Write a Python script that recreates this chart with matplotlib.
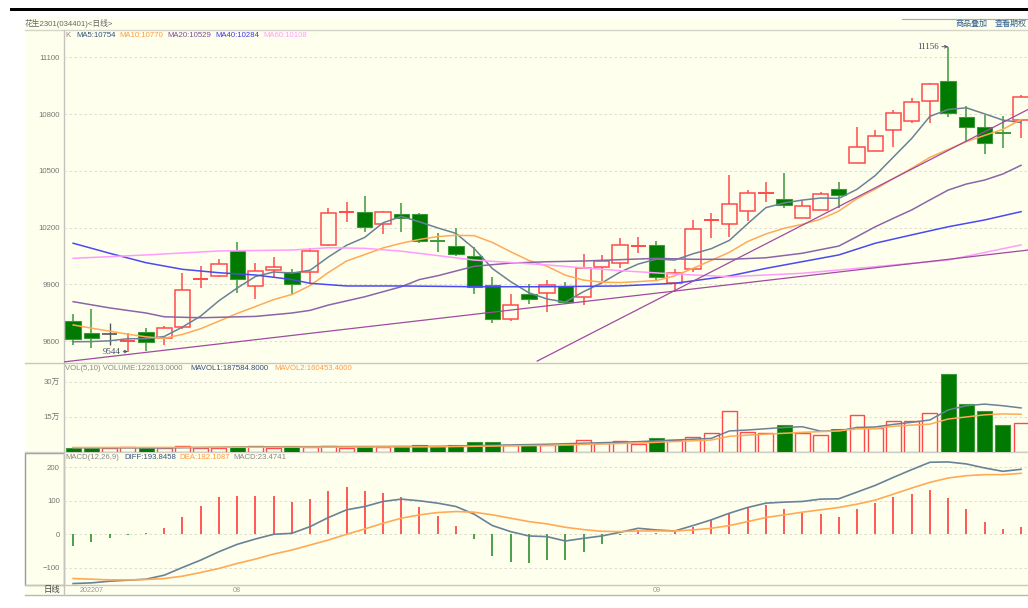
import matplotlib
matplotlib.use("Agg")
import matplotlib.pyplot as plt
from matplotlib.patches import Rectangle
from matplotlib.transforms import blended_transform_factory
import numpy as np

plt.rcParams['font.family'] = ['Liberation Sans', 'Noto Sans CJK SC', 'DejaVu Sans']

# ---------------- data ----------------
opens = [9707, 9641, 9637, 9600, 9649, 9618, 9676, 9924, 9945, 10078,
         9891, 9975, 9963, 9963, 10108, 10280, 10284, 10219, 10272, 10272,
         10130, 10104, 10049, 9896, 9715, 9847, 9852, 9891, 9834, 9993,
         10011, 10102, 10108, 9905, 9979, 10238, 10217, 10289, 10382, 10349,
         10249, 10293, 10405, 10540, 10605, 10716, 10763, 10869, 10975, 10786,
         10730, 10700, 10769]
highs = [9743, 9768, 9694, 9641, 9670, 9679, 9961, 9997, 10034, 10122,
         10011, 10043, 9979, 10090, 10302, 10333, 10367, 10288, 10328, 10279,
         10170, 10196, 10096, 9937, 9849, 9900, 9923, 9914, 10058, 10055,
         10146, 10152, 10130, 9979, 10240, 10275, 10478, 10398, 10439, 10487,
         10346, 10389, 10442, 10730, 10716, 10821, 10887, 10962, 11156, 10843,
         10795, 10790, 10901]
lows = [9579, 9561, 9579, 9544, 9547, 9579, 9662, 9879, 9937, 9852,
        9820, 9932, 9843, 9905, 10100, 10228, 10178, 10166, 10175, 10120,
        10072, 10049, 9849, 9694, 9707, 9796, 9755, 9796, 9790, 9919,
        9984, 10064, 9923, 9861, 9966, 10143, 10152, 10235, 10337, 10305,
        10249, 10293, 10302, 10540, 10605, 10627, 10751, 10751, 10783, 10659,
        10589, 10619, 10675]
closes = [9611, 9618, 9637, 9603, 9593, 9667, 9870, 9927, 10007, 9928,
          9972, 9990, 9900, 10078, 10278, 10282, 10204, 10284, 10249, 10130,
          10123, 10058, 9887, 9715, 9789, 9824, 9894, 9808, 9988, 10023,
          10108, 10106, 9940, 9961, 10191, 10242, 10324, 10381, 10386, 10319,
          10316, 10376, 10372, 10627, 10684, 10807, 10866, 10957, 10804, 10730,
          10649, 10698, 10892]

ma5 = [9596, 9597, 9601, 9612, 9612, 9624, 9674, 9732, 9813, 9880,
       9941, 9965, 9959, 9974, 10044, 10106, 10148, 10225, 10259, 10230,
       10198, 10169, 10089, 9983, 9914, 9855, 9822, 9806, 9861, 9907,
       9964, 10007, 10033, 10028, 10061, 10088, 10132, 10220, 10305, 10330,
       10345, 10356, 10354, 10402, 10475, 10573, 10671, 10788, 10824, 10833,
       10801, 10768, 10755]
ma10 = [9685, 9668, 9652, 9636, 9622, 9614, 9635, 9665, 9705, 9746,
        9782, 9819, 9846, 9893, 9962, 10023, 10057, 10092, 10117, 10137,
        10152, 10159, 10157, 10121, 10072, 10026, 9995, 9948, 9922, 9911,
        9909, 9914, 9920, 9944, 9984, 10026, 10069, 10126, 10166, 10196,
        10217, 10244, 10287, 10353, 10403, 10459, 10513, 10571, 10613, 10654,
        10687, 10719, 10771]
ma20_idx = [0, 2, 4, 5, 7, 10, 12, 13, 14, 16, 18, 19, 20, 22, 24, 26, 28, 30,
            32, 34, 36, 38, 40, 42, 43, 44, 45, 46, 47, 48, 49, 50, 51, 52]
ma20 = [9808, 9775, 9748, 9728, 9723, 9730, 9748, 9762, 9790, 9834, 9887, 9925,
        9945, 9995, 10012, 10019, 10023, 10030, 10037, 10032, 10032, 10040,
        10064, 10102, 10152, 10204, 10249, 10293, 10346, 10398, 10430, 10451,
        10483, 10529]
ma40_idx = [0, 2, 4, 6, 8, 10, 12, 13, 15, 18, 22, 26, 30, 33, 36, 38, 42, 44,
            46, 48, 50, 52]
ma40 = [10117, 10064, 10014, 9979, 9961, 9949, 9925, 9905, 9891, 9891, 9887,
        9887, 9891, 9905, 9944, 9984, 10055, 10117, 10161, 10204, 10240, 10284]
ma60_idx = [0, 4, 8, 12, 14, 16, 18, 22, 26, 30, 33, 36, 40, 44, 48, 52]
ma60 = [10037, 10055, 10076, 10081, 10093, 10090, 10075, 10028, 10002, 9972,
        9954, 9940, 9958, 9993, 10028, 10108]

# user-drawn trend lines: (start idx, start price, end idx, end price)
trend_lines = [(-0.55, 9489, 52.4, 10081),
               (25.46, 9494, 52.4, 10825)]

volume = [17000, 14600, 14600, 18600, 14000, 16000, 24000, 18000, 15000, 21000,
          26000, 18000, 24000, 21000, 26000, 18000, 20000, 20000, 24000, 27000,
          24000, 27000, 40000, 43000, 27000, 27000, 29000, 29000, 50000, 39000,
          44000, 33000, 57000, 50000, 64000, 79000, 176000, 86000, 79000, 116000,
          79000, 72000, 99000, 156000, 100000, 131000, 131000, 164000, 332000, 204000,
          174000, 113000, 122613]
mavol1_idx = [0, 5, 10, 15, 20, 26, 31, 35, 36, 37, 39, 40, 41, 42, 43, 44, 45,
              46, 47, 48, 49, 50, 51, 52]
mavol1 = [17000, 16000, 21000, 22000, 23000, 32000, 43000, 57000, 89000, 93000,
          104000, 107000, 88000, 89000, 104000, 106000, 117000, 126000, 136000,
          179000, 197000, 204000, 197000, 187585]
mavol2_idx = [0, 10, 20, 26, 31, 35, 36, 37, 40, 42, 43, 44, 45, 46, 47, 48, 49,
              50, 51, 52]
mavol2 = [18000, 19000, 21000, 27000, 37000, 50000, 66000, 71000, 83000, 89000,
          98000, 99000, 109000, 114000, 118000, 140000, 149000, 158000, 162000,
          160453]

diff = [-147, -145, -140, -137, -134, -122, -99, -77, -52, -30,
        -14, 0, 3, 23, 50, 73, 83, 98, 105, 100,
        93, 83, 60, 26, 8, -5, -7, -20, -12, -5,
        6, 18, 13, 10, 26, 43, 63, 80, 93, 96,
        98, 105, 106, 126, 146, 170, 193, 215, 216, 210,
        198, 188, 194]
dea = [-132, -134, -136, -136, -135, -132, -125, -114, -102, -87,
       -74, -59, -47, -32, -17, 0, 16, 33, 48, 58,
       65, 68, 66, 58, 48, 38, 31, 21, 14, 9,
       8, 10, 10, 10, 13, 18, 26, 38, 50, 58,
       66, 73, 80, 90, 102, 120, 138, 155, 168, 175,
       178, 178, 182]
macd = [-34, -24, -10, -2, 3, 18, 53, 83, 110, 113,
        115, 115, 97, 104, 130, 140, 130, 124, 110, 80,
        55, 26, -15, -65, -84, -87, -78, -78, -52, -30,
        -2, 13, 3, 8, 23, 43, 63, 81, 86, 76,
        65, 60, 51, 75, 92, 110, 121, 131, 108, 76,
        38, 15, 23]

date_labels = ["202207", "08", "09"]
date_label_idx = [1, 9, 32]

price_ticks = [9600, 9900, 10200, 10500, 10800, 11100]
vol_ticks = [150000, 300000]
vol_tick_labels = ["15万", "30万"]
macd_ticks = [-100, 0, 100, 200]
macd_tick_labels = ["\u2212100", "0", "100", "200"]

# ---------------- styling ----------------
W, H = 1028, 608
CREAM = "#ffffee"
RED = "#ff4a4a"
GREEN_FACE = "#007a00"
GREEN_EDGE = "#3a9a3a"
GRAY_K = "#555555"
C_MA5 = "#6a8296"
C_MA10 = "#ffaa55"
C_MA20 = "#8a66a8"
C_MA40 = "#4a4af0"
C_MA60 = "#ff9cff"
C_TREND = "#a04aa0"
NAVY = "#34507a"
ORANGE_T = "#ff9a40"
TICK_C = "#777777"
GRID_C = "#d8d8cc"
FS = 5.6

fig = plt.figure(figsize=(W / 100, H / 100), dpi=100)
bg = fig.add_axes([0, 0, 1, 1], zorder=0)
bg.set_xlim(0, W)
bg.set_ylim(H, 0)
bg.axis('off')

# frame / backgrounds
bg.add_patch(Rectangle((10, 8), W - 10, 3, color="black", lw=0))
bg.add_patch(Rectangle((24.5, 17), W - 24.5, 12.5, color=CREAM, lw=0))
bg.add_patch(Rectangle((24.5, 29.5), W - 24.5, 566, color=CREAM, lw=0))
bg.plot([902, W], [19, 19], color="#8ab0d8", lw=0.8)
for yy, c in [(29.5, "#d4d4c8"), (362.5, "#c8c8c0"), (452, "#d0d0c8"),
              (584.5, "#c8c8c0"), (595, "#b8b8b0")]:
    bg.plot([24.5, W], [yy, yy], color=c, lw=1.0)
bg.plot([63.5, 63.5], [29.5, 595], color="#c4c4bc", lw=1.0)
bg.add_patch(Rectangle((24.5, 452.5), 39, 132, fill=False, ec="#9a9a9a", lw=1.0))

bg.text(25, 23.5, "花生2301(034401)<日线>", fontsize=FS, color="#666666", va="center")
bg.text(955, 24, "商品叠加", fontsize=5.8, color="#2f5f8f", va="center")
bg.text(995, 24, "查看期权", fontsize=5.8, color="#2f5f8f", va="center")

# legends
for x0, s, c in [(65, "K", "#888888"), (76, "MA5:10754", NAVY),
                 (119, "MA10:10770", ORANGE_T), (167, "MA20:10529", "#7a4f98"),
                 (215, "MA40:10284", "#3a3aee"), (263, "MA60:10108", "#ff9cff")]:
    bg.text(x0, 35.5, s, fontsize=FS, color=c, va="center")
for x0, s, c in [(65, "VOL(5,10) VOLUME:122613.0000", "#888888"),
                 (190, "MAVOL1:187584.8000", NAVY),
                 (274, "MAVOL2:160453.4000", ORANGE_T)]:
    bg.text(x0, 368.5, s, fontsize=FS, color=c, va="center")
for x0, s, c in [(65, "MACD(12,26,9)", "#888888"), (124, "DIFF:193.8458", NAVY),
                 (179, "DEA:182.1087", ORANGE_T), (233, "MACD:23.4741", "#888888")]:
    bg.text(x0, 457.5, s, fontsize=FS, color=c, va="center")


def pax(x0, y0, x1, y1):
    a = fig.add_axes([x0 / W, 1 - y1 / H, (x1 - x0) / W, (y1 - y0) / H], zorder=2)
    a.set_facecolor("none")
    for sp in a.spines.values():
        sp.set_visible(False)
    a.set_xticks([])
    a.tick_params(axis="y", length=0, labelsize=FS, labelcolor=TICK_C, pad=3)
    return a


PX_PER_SLOT = 18.23
XL = (-0.5, -0.5 + (W - 64) / PX_PER_SLOT)
n = len(closes)
x = np.arange(n)

# ---------------- price panel ----------------
ax = pax(64, 29.5, W, 362.5)
ax.set_xlim(*XL)
k = 5.2873
ax.set_ylim(9600 - (362.5 - 341) * k, 9600 + (341 - 29.5) * k)
ax.set_yticks(price_ticks)
ax.set_yticklabels([str(t) for t in price_ticks])
for t in price_ticks:
    ax.axhline(t, color=GRID_C, lw=0.6, ls=(0, (3, 3)), zorder=0)

BW = 0.84
for i in range(n):
    o, h, l, c = opens[i], highs[i], lows[i], closes[i]
    if c > o:
        col = RED
        ax.vlines(i, c, h, color=col, lw=1.1, zorder=3)
        ax.vlines(i, l, o, color=col, lw=1.1, zorder=3)
        if c - o < 8:
            ax.hlines((o + c) / 2, i - BW / 2, i + BW / 2, color=col, lw=1.4, zorder=4)
        else:
            ax.bar(i, c - o, bottom=o, width=BW, facecolor=CREAM, edgecolor=col,
                   lw=1.1, zorder=4)
    elif c < o:
        ax.vlines(i, l, h, color=GREEN_EDGE, lw=1.1, zorder=3)
        if o - c < 8:
            ax.hlines((o + c) / 2, i - BW / 2, i + BW / 2, color=GREEN_EDGE, lw=1.4, zorder=4)
        else:
            ax.bar(i, o - c, bottom=c, width=BW, facecolor=GREEN_FACE,
                   edgecolor=GREEN_EDGE, lw=0.8, zorder=4)
    else:
        ax.vlines(i, l, h, color=GRAY_K, lw=1.0, zorder=3)
        ax.hlines(c, i - BW / 2, i + BW / 2, color=GRAY_K, lw=1.2, zorder=4)

ax.plot(x, ma5, color=C_MA5, lw=1.1, zorder=5)
ax.plot(x, ma10, color=C_MA10, lw=1.1, zorder=5)
ax.plot(ma20_idx, ma20, color=C_MA20, lw=1.1, zorder=5)
ax.plot(ma40_idx, ma40, color=C_MA40, lw=1.1, zorder=5)
ax.plot(ma60_idx, ma60, color=C_MA60, lw=1.1, zorder=5)
for (xa, ya, xb, yb) in trend_lines:
    ax.plot([xa, xb], [ya, yb], color=C_TREND, lw=0.9, zorder=5, clip_on=True)

imax = int(np.argmax(highs))
imin = int(np.argmin(lows))
ax.annotate(str(highs[imax]), xy=(imax, highs[imax]), xytext=(imax - 0.5, highs[imax]),
            ha="right", va="center", fontsize=6.4, color="#3a4a5a",
            family="Liberation Serif",
            arrowprops=dict(arrowstyle="->", lw=0.6, color="#3a4a5a",
                            shrinkA=0, shrinkB=0, mutation_scale=5), zorder=6)
ax.annotate(str(lows[imin]), xy=(imin, lows[imin]), xytext=(imin - 0.4, lows[imin]),
            ha="right", va="center", fontsize=6.4, color="#3a4a5a",
            family="Liberation Serif",
            arrowprops=dict(arrowstyle="->", lw=0.6, color="#3a4a5a",
                            shrinkA=0, shrinkB=0, mutation_scale=5), zorder=6)

# ---------------- volume panel ----------------
av = pax(64, 362.5, W, 452)
av.set_xlim(*XL)
kv = 150000 / 35.0
av.set_ylim(-(452 - 451.7) * kv, (451.7 - 362.5) * kv)
av.set_yticks(vol_ticks)
av.set_yticklabels(vol_tick_labels)
for t in vol_ticks:
    av.axhline(t, color=GRID_C, lw=0.6, ls=(0, (3, 3)), zorder=0)
VW = 0.82
for i in range(n):
    if closes[i] >= opens[i]:
        av.bar(i, volume[i], width=VW, facecolor=CREAM, edgecolor=RED, lw=1.0, zorder=3)
    else:
        av.bar(i, volume[i], width=VW, facecolor=GREEN_FACE, edgecolor=GREEN_EDGE,
               lw=0.8, zorder=3)
av.plot(mavol1_idx, mavol1, color=C_MA5, lw=1.1, zorder=4)
av.plot(mavol2_idx, mavol2, color=C_MA10, lw=1.1, zorder=4)

# ---------------- MACD panel ----------------
am = pax(64, 452, W, 584.5)
am.set_xlim(*XL)
km = 0.335
am.set_ylim(-(584.5 - 534.3) / km, (534.3 - 452) / km)
am.set_yticks(macd_ticks)
am.set_yticklabels(macd_tick_labels)
for t in macd_ticks:
    am.axhline(t, color=GRID_C, lw=0.6, ls=(0, (3, 3)), zorder=0)
mcol = [RED if v > 0 else GREEN_EDGE for v in macd]
am.vlines(x, 0, macd, colors=mcol, lw=1.3, zorder=3)
am.plot(x, diff, color=C_MA5, lw=1.2, zorder=4)
am.plot(x, dea, color=C_MA10, lw=1.2, zorder=4)

# ---------------- date row ----------------
bt = blended_transform_factory(am.transData, bg.transData)
bg.text(60, 590, "日线", fontsize=6, color="#444444", ha="right", va="center")
for lab, idx in zip(date_labels, date_label_idx):
    bg.text(idx, 590, lab, transform=bt, fontsize=5.2, color="#999999",
            ha="center", va="center")

fig.savefig("out.png", dpi=100, facecolor="white")
